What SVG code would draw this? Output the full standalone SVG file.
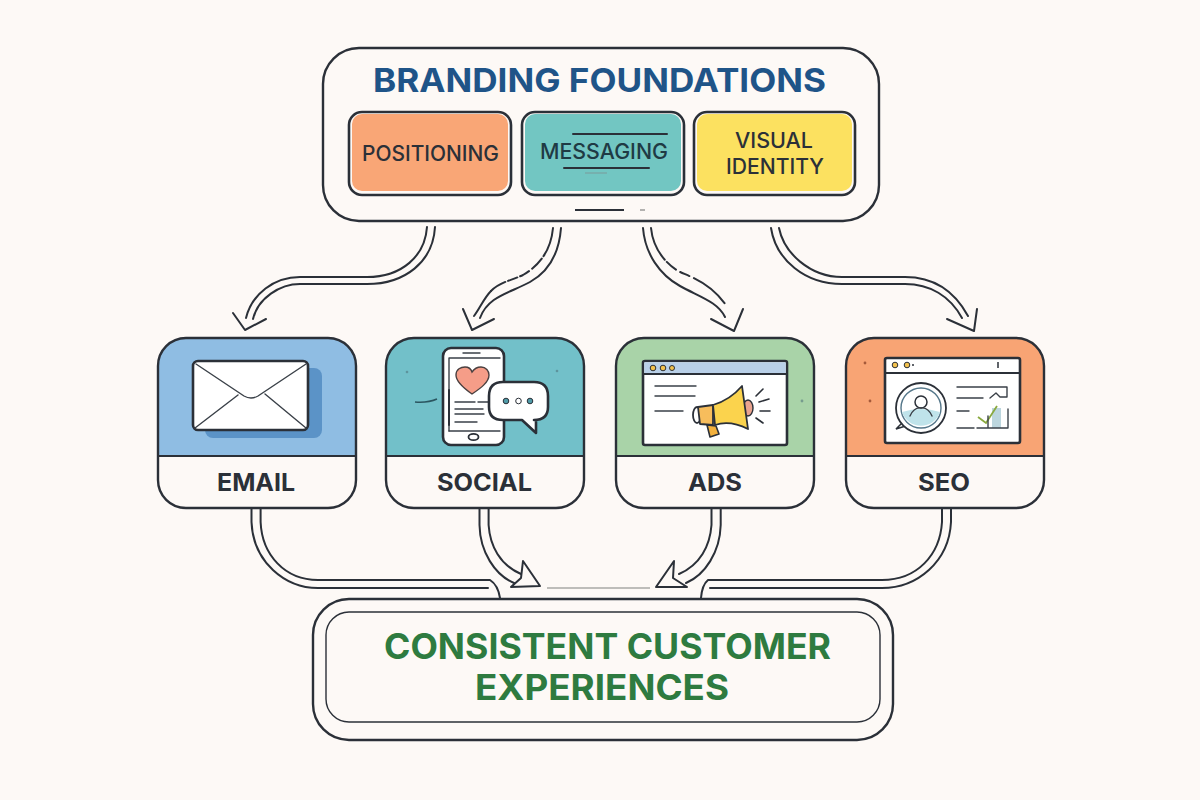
<svg xmlns="http://www.w3.org/2000/svg" width="1200" height="800" viewBox="0 0 1200 800">
<style>
text{font-family:Inter,"Open Sans","Liberation Sans",sans-serif;text-anchor:middle}
.frame{fill:#fdf9f6;stroke:#2b3038;stroke-width:2.4}
.box{fill:#fdf9f6;stroke:#2b3038;stroke-width:2.6}
.c{fill:none;stroke:#2b3038;stroke-width:2;stroke-linecap:round;stroke-linejoin:round}
.ar{fill:#fdf9f6;stroke:#2b3038;stroke-width:2;stroke-linejoin:round}
.t{fill:#2b3038;font-weight:500;font-size:21px}
.n{fill:#2b3038;font-weight:700;font-size:24px}
.g{fill:#2e7b40;font-weight:700;font-size:35px}
.l{fill:none;stroke:#2b3038;stroke-width:2;stroke-linecap:round;stroke-linejoin:round}
.l1{fill:none;stroke:#3a4048;stroke-width:1.4;stroke-linecap:round;stroke-linejoin:round}
.w{fill:#fff;stroke:#2b3038;stroke-width:2.6;stroke-linejoin:round}
.sp{fill:#4d6f78;opacity:.55}
</style>
<rect width="1200" height="800" fill="#fdf9f6"/>
<g id="connectors">
<path class="c" d="M427,227C425,256 402,277 367,277H300C274,277 252,294 246,318"/>
<path class="c" d="M435,227C433,262 405,284 367,284H300C280,284 258,298 253,319"/>
<polyline class="c" points="233,313 245,330 266,319"/>
<path class="c" d="M553,228C551,250 540,265 523,275C510,281 500,282 491,291" stroke-dasharray="30 3 14 4 10 3 10 3"/>
<path class="c" d="M561,228C559,254 548,272 530,282C510,293 488,296 480,318"/>
<path class="c" d="M491,291C484,298 480,308 474,316"/>
<polyline class="c" points="463,309 472,330 494,319"/>
<path class="c" d="M643,228C645,254 660,275 680,286C700,297 718,302 725,317"/>
<path class="c" d="M651,228C653,248 665,263 678,271C695,279 715,284 732,315" stroke-dasharray="35 3 12 5 10 5 40"/>
<polyline class="c" points="711,319 734,331 743,309"/>
<path class="c" d="M771,228C776,260 805,284 842,284H905C930,284 950,296 962,318"/>
<path class="c" d="M779,228C784,253 810,277 842,277H905C935,277 955,292 968,316"/>
<polyline class="c" points="947,319 974,331 977,309"/>
<path class="c" d="M260.600,509V522C262,555 285,580 318,580H490Q498,585 500,598"/>
<path class="c" d="M251.500,509V522C253,562 285,588 318,588H488"/>
<path class="c" d="M479.500,509V525C480,552 495,575 514,583"/>
<path class="c" d="M488.600,509V525C490,546 500,565 521,574"/>
<path class="ar" d="M523,561L540,586L511,587L521,578Z"/>
<path class="c" d="M720.700,509V525C720,552 705,575 686,583"/>
<path class="c" d="M711.500,509V525C710,546 700,565 679,574"/>
<path class="ar" d="M674,561L656,587L687,587L673,578Z"/>
<line x1="547" y1="588" x2="650" y2="588" stroke="#a9a9a6" stroke-width="1.600"/>
<path class="c" d="M951,509V522C949,562 917,588 882,588H710"/>
<path class="c" d="M942,509V522C940,555 917,580 882,580H708Q702,585 701,598"/>
</g>
<g id="branding-foundations">
<rect class="frame" x="323" y="48" width="556" height="173" rx="36"/>
<text x="599.500" y="92" font-size="33" font-weight="700" fill="#1f5488" textLength="453" lengthAdjust="spacingAndGlyphs">BRANDING FOUNDATIONS</text>
<line x1="575" y1="210" x2="624" y2="210" stroke="#2b3038" stroke-width="1.800"/>
<line x1="640" y1="210" x2="645" y2="210" stroke="#9a9a98" stroke-width="1.500"/>
</g>
<g id="positioning">
<rect class="box" x="349" y="112" width="162" height="83" rx="13"/>
<rect x="352" y="114" width="156" height="77" rx="10" fill="#f9a676"/>
<text class="t" x="430.500" y="161" textLength="137" lengthAdjust="spacingAndGlyphs">POSITIONING</text>
</g>
<g id="messaging">
<rect class="box" x="522" y="112" width="162" height="83" rx="13"/>
<rect x="525" y="114" width="156" height="77" rx="10" fill="#72c6c2"/>
<line class="l" x1="573" y1="134" x2="667" y2="134"/>
<line class="l" x1="564" y1="168" x2="649" y2="168"/>
<line x1="585" y1="173" x2="607" y2="173" stroke="#7a9a9a" stroke-width="1"/>
<text x="604" y="159" font-size="21" font-weight="500" fill="#1f3a44" textLength="128" lengthAdjust="spacingAndGlyphs">MESSAGING</text>
</g>
<g id="visual-identity">
<rect class="box" x="694" y="112" width="161" height="83" rx="13"/>
<rect x="697" y="114" width="155" height="77" rx="10" fill="#fce160"/>
<text class="t" x="774" y="148" textLength="78" lengthAdjust="spacingAndGlyphs">VISUAL</text>
<text class="t" x="775" y="174" textLength="98" lengthAdjust="spacingAndGlyphs">IDENTITY</text>
</g>
<g id="email">
<path d="M186,338H328A28,28 0 0 1 356,366V456H158V366A28,28 0 0 1 186,338Z" fill="#8fbde3"/>
<path d="M158,456H356V480A28,28 0 0 1 328,508H186A28,28 0 0 1 158,480Z" fill="#fdf9f6"/>
<rect x="158" y="338" width="198" height="170" rx="28" fill="none" stroke="#2b3038" stroke-width="2.400"/>
<line x1="158" y1="456" x2="356" y2="456" stroke="#2b3038" stroke-width="2.200"/>
<rect x="205" y="368" width="117" height="70" rx="8" fill="#5b93c7"/>
<rect class="w" x="193" y="361" width="115" height="69" rx="5"/>
<path class="l1" d="M196,364L244,396Q251,400 258,396L306,364M195,428L238,395M306,428L265,394"/>
<text class="n" x="256" y="491" textLength="78" lengthAdjust="spacingAndGlyphs">EMAIL</text>
</g>
<g id="social">
<path d="M414,338H556A28,28 0 0 1 584,366V456H386V366A28,28 0 0 1 414,338Z" fill="#72c0c9"/>
<path d="M386,456H584V480A28,28 0 0 1 556,508H414A28,28 0 0 1 386,480Z" fill="#fdf9f6"/>
<rect x="386" y="338" width="198" height="170" rx="28" fill="none" stroke="#2b3038" stroke-width="2.400"/>
<line x1="386" y1="456" x2="584" y2="456" stroke="#2b3038" stroke-width="2.200"/>
<path d="M415,402Q428,403 437,399" fill="none" stroke="#2b5560" stroke-width="1.500"/>
<circle class="sp" cx="407" cy="372" r="1.300"/><circle class="sp" cx="557" cy="371" r="1.300"/>
<rect class="w" x="443" y="348" width="61" height="97" rx="8"/>
<path class="l1" d="M449,431V358H500"/>
<line class="l" x1="449" y1="390" x2="449" y2="425"/>
<path class="l1" d="M449,431H500M463,353H480"/>
<ellipse cx="473.500" cy="437" rx="5" ry="3.200" fill="#fff" stroke="#2b3038" stroke-width="1.800"/>
<path d="M472,394C462,387 456,381 456,375C456,369 461,367 465,367C468,367 471,369 472,372C474,369 477,367 481,367C486,367 489,371 489,375C489,382 481,388 472,394Z" fill="#f59d88" stroke="#4a4040" stroke-width="1.400"/>
<path class="l1" d="M455,402H475M478,402H490M455,409H483M455,414H484M455,422H477"/>
<path class="w" d="M503,382H534Q548,382 548,396V407Q548,420 534,420H536L536,433L522,420H503Q489,420 489,407V396Q489,382 503,382Z"/>
<circle cx="506" cy="401" r="2.800" fill="#4f9ba8" stroke="#2b3038"/>
<circle cx="518.500" cy="401" r="2.800" fill="#fff" stroke="#2b3038"/>
<circle cx="530" cy="401" r="2.800" fill="#4f9ba8" stroke="#2b3038"/>
<text class="n" x="484.500" y="491" textLength="95" lengthAdjust="spacingAndGlyphs">SOCIAL</text>
</g>
<g id="ads">
<path d="M644,338H786A28,28 0 0 1 814,366V456H616V366A28,28 0 0 1 644,338Z" fill="#a9d3a8"/>
<path d="M616,456H814V480A28,28 0 0 1 786,508H644A28,28 0 0 1 616,480Z" fill="#fdf9f6"/>
<rect x="616" y="338" width="198" height="170" rx="28" fill="none" stroke="#2b3038" stroke-width="2.400"/>
<line x1="616" y1="456" x2="814" y2="456" stroke="#2b3038" stroke-width="2.200"/>
<circle class="sp" cx="802" cy="401" r="1.400"/>
<rect class="w" x="643" y="361" width="144" height="84" rx="2"/>
<rect x="644.300" y="362.300" width="141.400" height="11" fill="#b9d0e8"/>
<line x1="643" y1="374" x2="787" y2="374" stroke="#2b3038" stroke-width="1.800"/>
<circle cx="653" cy="368" r="2.800" fill="#f2c14e" stroke="#2b3038"/>
<circle cx="663" cy="368" r="2.800" fill="#f2c14e" stroke="#2b3038"/>
<circle cx="672" cy="368" r="2.500" fill="#f2c14e" stroke="#2b3038"/>
<path class="l1" d="M655,386H696M655,396H695M655,411H683"/>
<path d="M707,425L710,437L719,434L716,426Z" fill="#f3b13d" stroke="#2b3038" stroke-width="1.600" stroke-linejoin="round"/>
<ellipse cx="748" cy="408" rx="5" ry="8" fill="#eaa48f" stroke="#2b3038" stroke-width="1.400"/>
<ellipse cx="697" cy="415" rx="4" ry="8" fill="#fff" stroke="#2b3038" stroke-width="1.800"/>
<path d="M698,407L713,405V425L700,424Z" fill="#f7bd5c" stroke="#2b3038" stroke-width="1.800" stroke-linejoin="round"/>
<path d="M713,405Q730,400 742,386L748,429Q730,420 715,425Z" fill="#fbd34d" stroke="#2b3038" stroke-width="1.800" stroke-linejoin="round"/>
<path class="l" d="M756,396L763,389M759,402L769,399M760,411L770,411M756,418L763,423" style="stroke-width:1.600"/>
<text class="n" x="715" y="491" textLength="54" lengthAdjust="spacingAndGlyphs">ADS</text>
</g>
<g id="seo">
<path d="M874,338H1016A28,28 0 0 1 1044,366V456H846V366A28,28 0 0 1 874,338Z" fill="#f8a474"/>
<path d="M846,456H1044V480A28,28 0 0 1 1016,508H874A28,28 0 0 1 846,480Z" fill="#fdf9f6"/>
<rect x="846" y="338" width="198" height="170" rx="28" fill="none" stroke="#2b3038" stroke-width="2.400"/>
<line x1="846" y1="456" x2="1044" y2="456" stroke="#2b3038" stroke-width="2.200"/>
<circle cx="865" cy="363" r="1.400" fill="#a55a3a"/><circle cx="870" cy="401" r="1.400" fill="#a55a3a"/>
<rect class="w" x="885" y="358" width="135" height="85" rx="2"/>
<line x1="885" y1="373" x2="1020" y2="373" stroke="#2b3038" stroke-width="1.800"/>
<circle cx="895" cy="365" r="2.800" fill="#f2c14e" stroke="#2b3038"/>
<circle cx="907" cy="365" r="2.800" fill="#f2c14e" stroke="#2b3038"/>
<circle cx="913" cy="365" r="1" fill="#2b3038"/>
<line x1="998" y1="362" x2="998" y2="368" stroke="#2b3038" stroke-width="1.500"/>
<path d="M905,420L896,429L912,424Z" fill="#fff" stroke="#2b3038" stroke-width="1.500"/>
<circle cx="921" cy="408" r="25" fill="#fff" stroke="#2b3038" stroke-width="1.800"/>
<circle cx="921" cy="408" r="20" fill="#fff" stroke="#55778a" stroke-width="1.400"/>
<path d="M902,412A20,20 0 0 0 940,412Q921,406 902,412Z" fill="#bfe3ea"/>
<circle cx="921" cy="402" r="6" fill="none" stroke="#2b3038" stroke-width="1.500"/>
<path class="l1" d="M910,416Q914,407 921,408Q928,407 932,416"/>
<path class="l1" d="M957,387H1007V397H1000L996,393L990,398M957,398H983M957,411H969M957,428H974"/>
<rect x="992" y="408" width="9" height="20" fill="#bcd6de"/>
<path d="M978,417L986,423L997,406" fill="none" stroke="#8aa93f" stroke-width="1.800"/>
<path class="l1" d="M977,428H1008V409M988,428V416"/>
<text class="n" x="944" y="491" textLength="52" lengthAdjust="spacingAndGlyphs">SEO</text>
</g>
<g id="consistent-customer-experiences">
<rect class="frame" x="313" y="599" width="580" height="141" rx="36"/>
<rect x="326" y="612" width="554" height="110" rx="23" fill="none" stroke="#2b3038" stroke-width="1.400"/>
<text class="g" x="607.500" y="659" textLength="447" lengthAdjust="spacingAndGlyphs">CONSISTENT CUSTOMER</text>
<text class="g" x="602" y="700" textLength="254" lengthAdjust="spacingAndGlyphs">EXPERIENCES</text>
</g>
</svg>
